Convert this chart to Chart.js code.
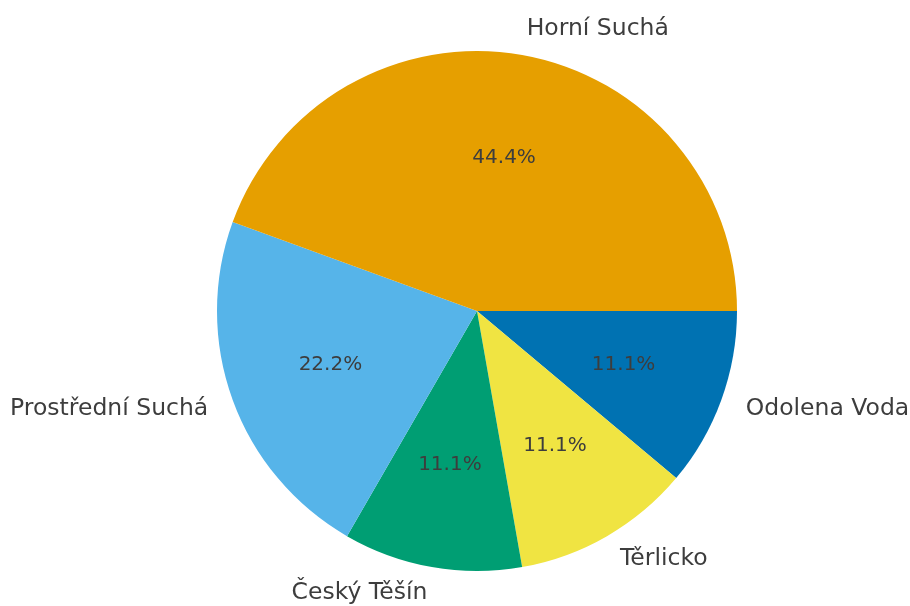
<!DOCTYPE html>
<html lang="cs">
<head>
<meta charset="UTF-8">
<title>Pie</title>
<script src="https://cdn.jsdelivr.net/npm/chart.js"></script>
<style>
  html, body { margin: 0; padding: 0; background: #fff; }
  #wrap { width: 910px; height: 606px; }
</style>
</head>
<body>
<div id="wrap"><canvas id="pieChart" width="910" height="606"></canvas></div>
<script>
// data, in the order the slices run counterclockwise from 3 o'clock
const categories = ["Horní Suchá", "Prostřední Suchá", "Český Těšín", "Těrlicko", "Odolena Voda"];
const counts = [4, 2, 1, 1, 1];
const sliceColors = ["#E69F00", "#56B4E9", "#009E73", "#F0E442", "#0072B2"];

// Chart.js goes clockwise, so reverse to get the same layout
const labelsCw = categories.slice().reverse();
const countsCw = counts.slice().reverse();
const colorsCw = sliceColors.slice().reverse();
const total = counts.reduce((a, b) => a + b, 0);

const textColor = "#3d3d3d";

const pieText = {
  id: "pieText",
  afterDatasetsDraw(chart) {
    const ctx = chart.ctx;
    const meta = chart.getDatasetMeta(0);
    ctx.save();
    ctx.fillStyle = textColor;
    ctx.textBaseline = "middle";
    meta.data.forEach((arc, i) => {
      const mid = (arc.startAngle + arc.endAngle) / 2;
      const r = arc.outerRadius;
      const cx = Math.cos(mid), cy = Math.sin(mid);

      // category label outside
      ctx.font = "23.5px 'DejaVu Sans'";
      ctx.textAlign = cx > 0 ? "left" : "right";
      ctx.fillText(labelsCw[i], arc.x + cx * r * 1.1, arc.y + cy * r * 1.1);

      // percentage inside
      ctx.font = "20px 'DejaVu Sans'";
      ctx.textAlign = "center";
      const pct = (countsCw[i] / total * 100).toFixed(1) + "%";
      ctx.fillText(pct, arc.x + cx * r * 0.6, arc.y + cy * r * 0.6);
    });
    ctx.restore();
  }
};

new Chart(document.getElementById("pieChart").getContext("2d"), {
  type: "pie",
  data: {
    labels: labelsCw,
    datasets: [{
      data: countsCw,
      backgroundColor: colorsCw,
      borderWidth: 0
    }]
  },
  options: {
    responsive: false,
    animation: false,
    rotation: 90,
    layout: { padding: { top: 51, bottom: 35, left: 217, right: 173 } },
    plugins: {
      legend: { display: false },
      tooltip: { enabled: false }
    }
  },
  plugins: [pieText]
});
</script>
</body>
</html>
